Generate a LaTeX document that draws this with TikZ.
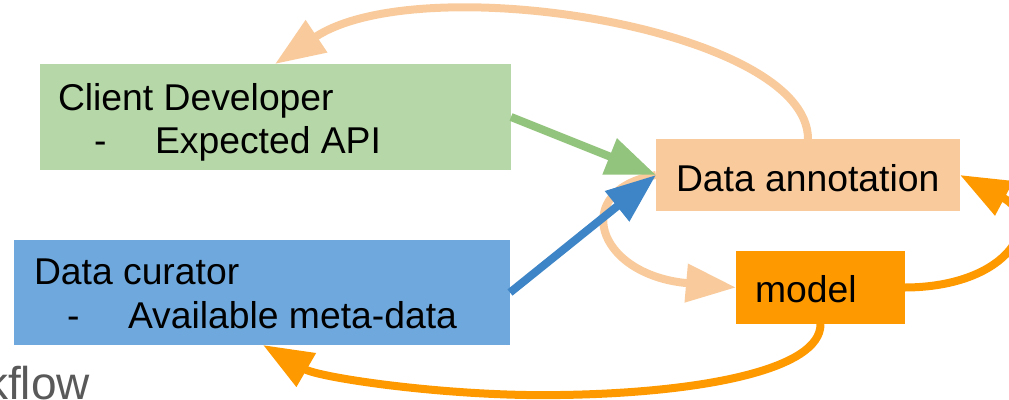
\documentclass[tikz,border=0pt]{standalone}
\usepackage{fontspec}
\setmainfont{Liberation Sans}
\usetikzlibrary{arrows.meta}
\definecolor{cdgreen}{HTML}{B6D7A8}
\definecolor{arrgreen}{HTML}{93C47D}
\definecolor{dcblue}{HTML}{6FA8DC}
\definecolor{arrblue}{HTML}{3D85C6}
\definecolor{peach}{HTML}{F9CB9C}
\definecolor{orng}{HTML}{FF9900}
\definecolor{titlegray}{HTML}{595959}
\begin{document}
\begin{tikzpicture}[x=1pt,y=-1pt,
  box/.style={draw=none, inner sep=0pt, outer sep=0pt, anchor=north west},
  lbl/.style={anchor=base west, inner sep=0pt, outer sep=0pt, text=black,
              font=\fontsize{37.3}{40}\selectfont},
  conn/.style={line width=8pt, -{Triangle[length=50pt,width=37pt]}},
]
\useasboundingbox (0,0) rectangle (1009,399);
\clip (0,0) rectangle (1009,399);

% boxes
\node[box, fill=cdgreen, minimum width=471pt, minimum height=106pt] (cd) at (40,64) {};
\node[box, fill=dcblue, minimum width=496pt, minimum height=105pt] (dc) at (14,240) {};
\node[box, fill=peach, minimum width=304pt, minimum height=72pt] (da) at (656,139) {};
\node[box, fill=orng, minimum width=169pt, minimum height=73pt] (md) at (736,251) {};

% labels
\node[lbl] (cdt) at (58,110) {Client Developer};
\node[lbl] (cdd) at (94,153) {-};
\node[lbl] (cdi) at (155,153) {Expected API};
\node[lbl] (dct) at (34,284) {Data curator};
\node[lbl] (dcd) at (67,328) {-};
\node[lbl] (dci) at (128,328) {Available meta-data};
\node[lbl] (dat) at (676,191) {Data annotation};
\node[lbl] (mdt) at (755,302) {model};
\node[anchor=base west, inner sep=0pt, text=titlegray,
      font=\fontsize{46}{50}\selectfont] (ttl) at (-15,399) {kflow};

% helper coordinates
\coordinate (cdtip) at (cd.north -| 275,0);
\coordinate (dctip) at (dc.south -| 263,0);
\coordinate (bot) at (560,395);

% connectors
\draw[conn, peach] (da.north) .. controls (808,28) and (420,-33) .. (cdtip);
\draw[conn, peach] (da.west) .. controls (570,190) and (595,275) .. (md.west);
\draw[conn, arrgreen] (cd.east) -- (da.west);
\draw[conn, arrblue] (dc.east) -- (da.west);
\draw[conn, orng] (md.east) .. controls (1010,287) and (1045,220) .. (da.east);
\draw[conn, orng] (md.south) .. controls (821,370) and (700,393) .. (bot)
      .. controls (450,397) and (320,378) .. (dctip);
\end{tikzpicture}
\end{document}
